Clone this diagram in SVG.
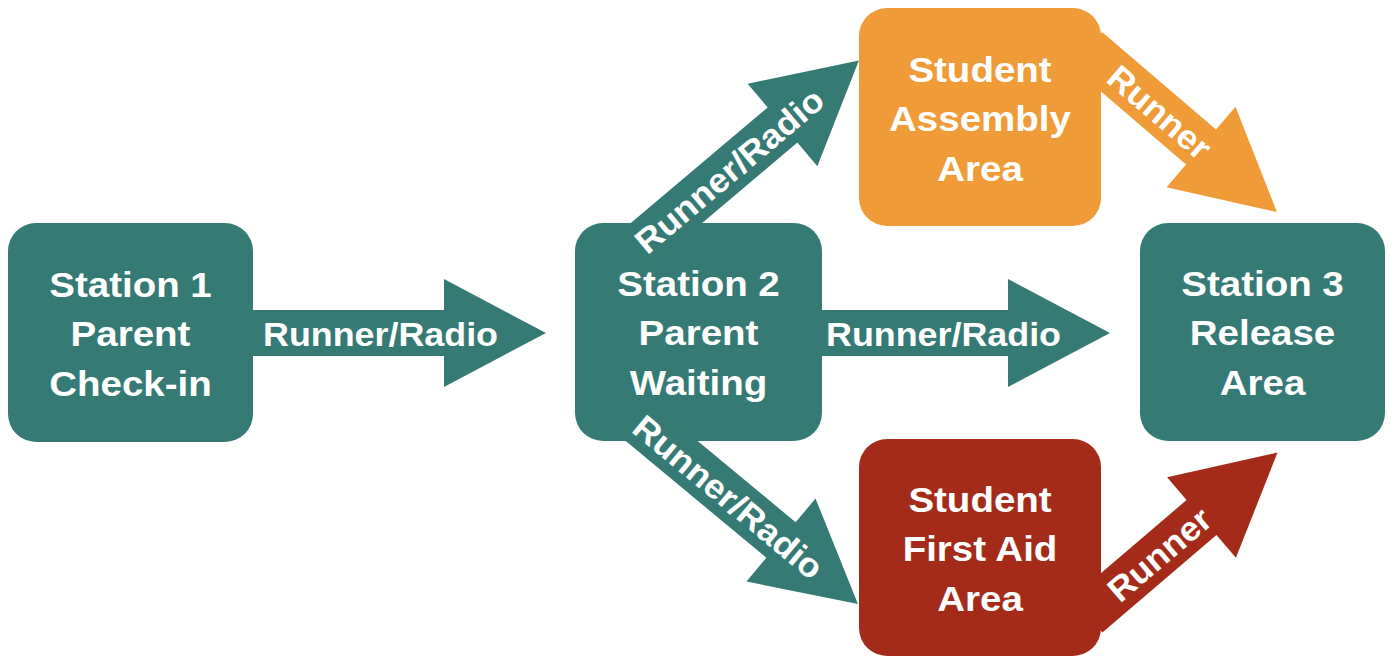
<svg xmlns="http://www.w3.org/2000/svg" width="1393" height="660" viewBox="0 0 1393 660">
<style>
  .teal{fill:#367a75}
  .orange{fill:#ef9b38}
  .red{fill:#a42b19}
  .nt{font-family:"Liberation Sans",Arial,sans-serif;font-weight:bold;font-size:35px;fill:#ffffff;text-anchor:middle}
  .lt{font-family:"Liberation Sans",Arial,sans-serif;font-weight:bold;font-size:34px;fill:#ffffff;text-anchor:middle}
</style>
<rect width="1393" height="660" fill="#ffffff"/>
<g id="station1">
  <rect class="teal" x="8" y="223" width="245" height="219" rx="28"/>
  <g transform="translate(130.5,0) scale(1.1,1)">
    <text class="nt" x="0" y="297">Station 1</text>
    <text class="nt" x="0" y="346">Parent</text>
    <text class="nt" x="0" y="396">Check-in</text>
  </g>
</g>
<g id="station2">
  <rect class="teal" x="575" y="223" width="247" height="218" rx="28"/>
  <g transform="translate(698.5,0) scale(1.1,1)">
    <text class="nt" x="0" y="296">Station 2</text>
    <text class="nt" x="0" y="345">Parent</text>
    <text class="nt" x="0" y="395">Waiting</text>
  </g>
</g>
<g id="station3">
  <rect class="teal" x="1140" y="223" width="245" height="218" rx="28"/>
  <g transform="translate(1262.5,0) scale(1.1,1)">
    <text class="nt" x="0" y="296">Station 3</text>
    <text class="nt" x="0" y="345">Release</text>
    <text class="nt" x="0" y="395">Area</text>
  </g>
</g>
<g id="assembly">
  <rect class="orange" x="859" y="8" width="242" height="218" rx="28"/>
  <g transform="translate(980,0) scale(1.1,1)">
    <text class="nt" x="0" y="82">Student</text>
    <text class="nt" x="0" y="131">Assembly</text>
    <text class="nt" x="0" y="181">Area</text>
  </g>
</g>
<g id="firstaid">
  <rect class="red" x="859" y="439" width="242" height="217" rx="28"/>
  <g transform="translate(980,0) scale(1.1,1)">
    <text class="nt" x="0" y="512">Student</text>
    <text class="nt" x="0" y="561">First Aid</text>
    <text class="nt" x="0" y="611">Area</text>
  </g>
</g>
<g id="connectors">
  <g transform="translate(444,333)">
    <path class="teal" d="M-204,-23 H0 V-54 L102,0 L0,54 V23 H-204 Z"/>
    <text class="lt" x="-63.5" y="13" textLength="235" lengthAdjust="spacingAndGlyphs">Runner/Radio</text>
  </g>
  <g transform="translate(1008,333)">
    <path class="teal" d="M-198,-23 H0 V-54 L102,0 L0,54 V23 H-198 Z"/>
    <text class="lt" x="-64.5" y="13" textLength="235" lengthAdjust="spacingAndGlyphs">Runner/Radio</text>
  </g>
  <g transform="translate(782.5,125) rotate(-40.2)">
    <path class="teal" d="M-190,-23 H0 V-54 L100,0 L0,54 V23 H-190 Z"/>
    <text class="lt" x="-70" y="12.5" textLength="235" lengthAdjust="spacingAndGlyphs">Runner/Radio</text>
  </g>
  <g transform="translate(781,540) rotate(39.7)">
    <path class="teal" d="M-185,-23 H0 V-54 L100,0 L0,54 V23 H-185 Z"/>
    <text class="lt" x="-68" y="12.5" textLength="235" lengthAdjust="spacingAndGlyphs">Runner/Radio</text>
  </g>
  <g transform="translate(1201,147) rotate(40.6)">
    <path class="orange" d="M-150,-23 H0 V-53 L100,0 L0,53 V23 H-150 Z"/>
    <text class="lt" x="-54" y="12.5" textLength="124" lengthAdjust="spacingAndGlyphs">Runner</text>
  </g>
  <g transform="translate(1201.5,517.5) rotate(-40.5)">
    <path class="red" d="M-150,-23 H0 V-53 L100,0 L0,53 V23 H-150 Z"/>
    <text class="lt" x="-56" y="12.5" textLength="124" lengthAdjust="spacingAndGlyphs">Runner</text>
  </g>
</g>
</svg>
